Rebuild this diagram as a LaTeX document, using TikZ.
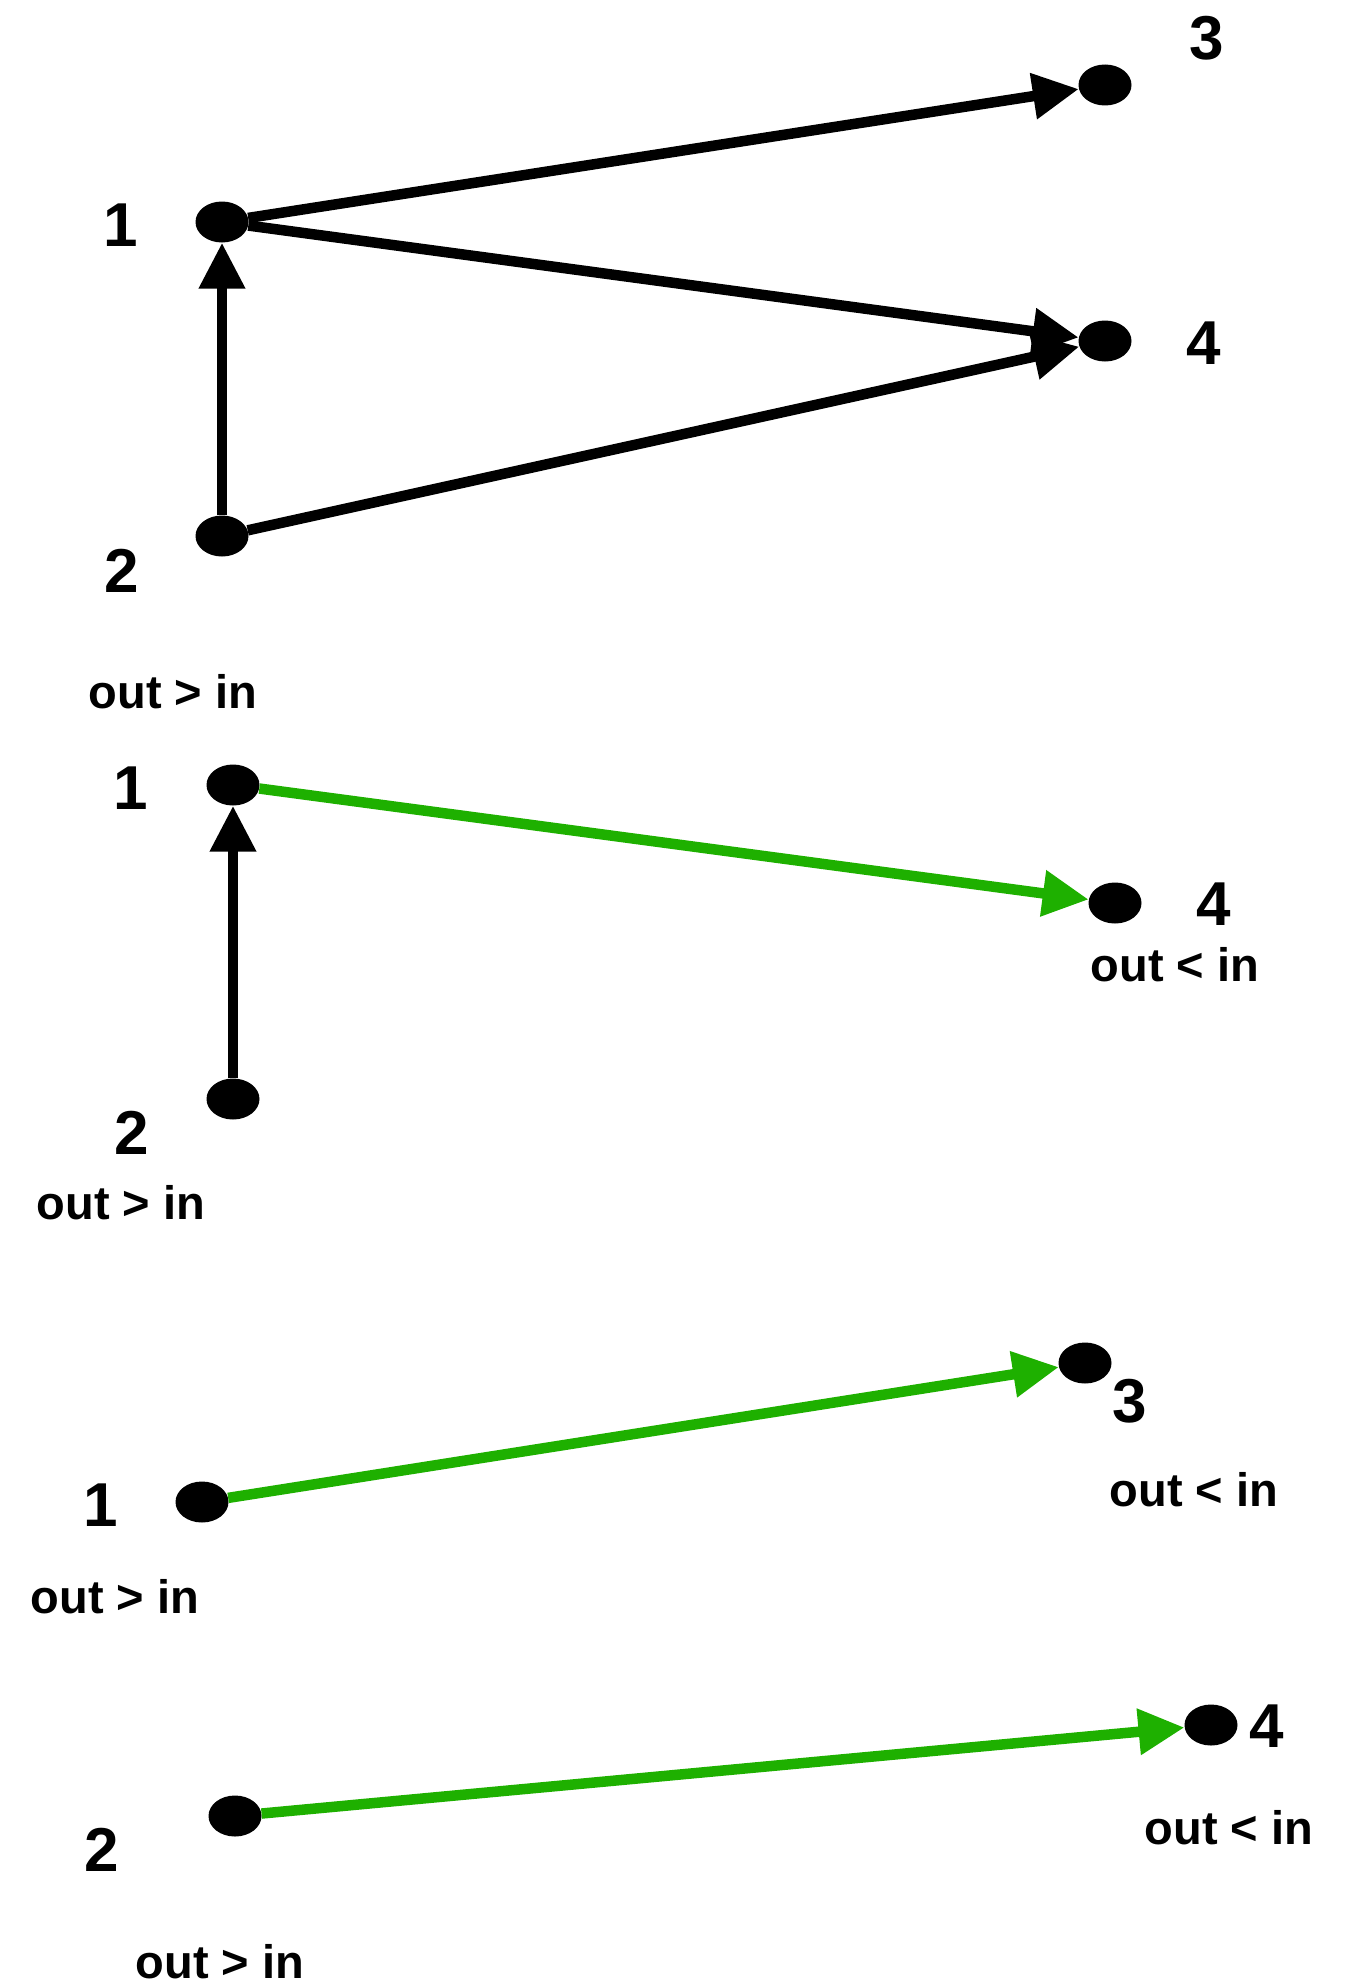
\documentclass[tikz,border=0pt]{standalone}
\usepackage{fontspec}
\setmainfont{Liberation Sans}
\usetikzlibrary{arrows.meta,shapes.geometric}
\definecolor{edgegreen}{RGB}{30,176,0}
\tikzset{
  dot/.style={ellipse,fill=black,draw=none,minimum width=53pt,minimum height=41pt,inner sep=0pt},
  num/.style={inner sep=0pt,font=\fontsize{62}{62}\selectfont\bfseries},
  cmp/.style={inner sep=0pt,font=\fontsize{47}{47}\selectfont\bfseries},
  edge/.style={line width=10.5pt},
  blackedge/.style={edge,draw=black,-{Triangle[length=46pt,width=44pt]}},
  greenedge/.style={edge,draw=edgegreen,-{Triangle[length=46pt,width=44pt,fill=edgegreen]}}
}
\begin{document}
\begin{tikzpicture}[x=1pt,y=-1pt]
\useasboundingbox (0,0) rectangle (1353,1983);
% top section
\node[dot] (a1) at (222,222) {};
\node[dot] (a2) at (222,536) {};
\node[dot] (a3) at (1105,85) {};
\node[dot] (a4) at (1105,341) {};
\node[num] (la1) at (121,225) {1};
\node[num] (la2) at (122,571) {2};
\node[num] (la3) at (1207,38) {3};
\node[num] (la4) at (1204,343) {4};
\draw[blackedge] (a1) -- (a3);
\draw[blackedge] (a1) -- (a4);
\draw[blackedge] (a2) -- (a4);
\draw[blackedge] (a2) -- (a1);
% middle section
\node[cmp] (cb1) at (173,692) {out > in};
\node[dot] (b1) at (233,785) {};
\node[dot] (b2) at (233,1099) {};
\node[dot] (b4) at (1115,903) {};
\node[num] (lb1) at (131,788) {1};
\node[num] (lb2) at (132,1133) {2};
\node[num] (lb4) at (1214,904) {4};
\node[cmp] (cb2) at (121,1203) {out > in};
\node[cmp] (cb4) at (1175,965) {out < in};
\draw[greenedge] (b1) -- (b4);
\draw[blackedge] (b2) -- (b1);
% bottom section
\node[dot] (c1) at (202,1502) {};
\node[dot] (c2) at (235,1816) {};
\node[dot] (c3) at (1085,1363) {};
\node[dot] (c4) at (1211,1725) {};
\node[num] (lc1) at (101,1505) {1};
\node[num] (lc2) at (102,1850) {2};
\node[num] (lc3) at (1130,1401) {3};
\node[num] (lc4) at (1267,1726) {4};
\node[cmp] (cc1) at (115,1597) {out > in};
\node[cmp] (cc2) at (220,1962) {out > in};
\node[cmp] (cc3) at (1194,1490) {out < in};
\node[cmp] (cc4) at (1229,1828) {out < in};
\draw[greenedge] (c1) -- (c3);
\draw[greenedge] (c2) -- (c4);
\end{tikzpicture}
\end{document}
